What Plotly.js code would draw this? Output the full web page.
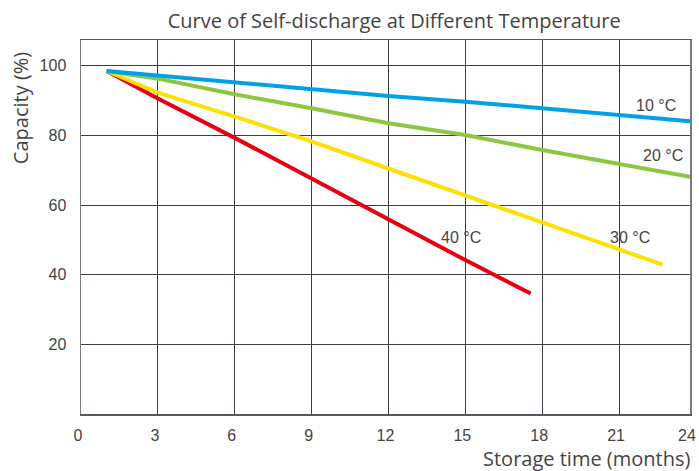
<!DOCTYPE html>
<html>
<head>
<meta charset="utf-8">
<script src="https://cdn.plot.ly/plotly-3.0.1.min.js"></script>
<style>html,body{margin:0;padding:0;background:#fff;}#chart{width:699px;height:471px;}</style>
</head>
<body>
<div id="chart"></div>
<script>
// Data
var months10 = [1, 3, 6, 9, 12, 15, 18, 21, 23.77];
var cap10    = [98.5, 97.2, 95.1, 93.2, 91.3, 89.7, 87.8, 85.8, 84.1];
var months20 = [1, 3, 6, 9, 12, 15, 18, 21, 23.77];
var cap20    = [98.5, 96.3, 91.8, 87.8, 83.5, 80.1, 75.8, 71.9, 68.1];
var months30 = [1, 3, 6, 9, 12, 15, 18, 21, 22.7];
var cap30    = [98.5, 92.3, 85.4, 78.3, 70.5, 62.8, 55.2, 47.5, 42.9];
var months40 = [1, 3, 6, 9, 12, 15, 17.55];
var cap40    = [98.5, 90.6, 79.3, 67.6, 56.1, 44.2, 34.6];

var seriesNames = ['10 °C', '20 °C', '30 °C', '40 °C'];
var seriesColors = ['#00a0e9', '#8dc63f', '#ffe100', '#e60012'];
var labelX = [22.46, 22.7, 21.42, 14.83];
var labelY = [88.6, 74.3, 50.7, 50.7];

var xTickVals = [0, 3, 6, 9, 12, 15, 18, 21, 23.77];
var xTickText = ['0', '3', '6', '9', '12', '15', '18', '21', '24'];
var yTickVals = [20, 40, 60, 80, 100];

var xs = [months10, months20, months30, months40];
var ys = [cap10, cap20, cap30, cap40];

var traces = [];
var order = [3, 2, 1, 0];
order.forEach(function (i) {
  traces.push({
    x: xs[i], y: ys[i], type: 'scatter', mode: 'lines', name: seriesNames[i],
    line: {color: seriesColors[i], width: 4}, hoverinfo: 'skip'
  });
});

var annotations = seriesNames.map(function (n, i) {
  return {x: labelX[i], y: labelY[i], xref: 'x', yref: 'y', text: n, showarrow: false,
    font: {family: 'Liberation Sans, Arial, sans-serif', size: 16, color: '#444'},
    xanchor: 'center', yanchor: 'middle'};
});
annotations.push({
  x: -0.099, y: 0.817, xref: 'paper', yref: 'paper', text: 'Capacity (%)', showarrow: false,
  textangle: -90, xanchor: 'center', yanchor: 'middle',
  font: {family: 'Open Sans, sans-serif', size: 20, color: '#444'}
});
annotations.push({
  x: 1.003, y: -0.118, xref: 'paper', yref: 'paper', text: 'Storage time (months)', showarrow: false,
  xanchor: 'right', yanchor: 'middle',
  font: {family: 'Open Sans, sans-serif', size: 20, color: '#444'}
});

var layout = {
  width: 699, height: 471,
  margin: {l: 80.5, r: 9, t: 40, b: 57, pad: 0},
  paper_bgcolor: '#fff', plot_bgcolor: '#fff',
  showlegend: false,
  title: {text: 'Curve of Self-discharge at Different Temperature',
    x: 0.564, xref: 'container', xanchor: 'center', y: 0.955, yref: 'container', yanchor: 'middle',
    font: {family: 'Open Sans, sans-serif', size: 20, color: '#444'}},
  xaxis: {range: [0, 23.77], tickmode: 'array', tickvals: xTickVals, ticktext: xTickText,
    showgrid: true, gridcolor: '#3a3e48', gridwidth: 1, zeroline: false,
    showline: true, linecolor: '#555a62', linewidth: 1.5, mirror: true, ticks: '',
    ticklabelstandoff: 6, ticklabelshift: -3,
    tickfont: {family: 'Liberation Sans, Arial, sans-serif', size: 16, color: '#444'}},
  yaxis: {range: [0, 107.4], tickmode: 'array', tickvals: yTickVals,
    showgrid: true, gridcolor: '#3a3e48', gridwidth: 1, zeroline: false,
    showline: true, linecolor: '#777b82', linewidth: 1.5, mirror: true, ticks: '',
    ticklabelstandoff: 10,
    tickfont: {family: 'Liberation Sans, Arial, sans-serif', size: 16, color: '#444'}},
  annotations: annotations
};

Plotly.newPlot('chart', traces, layout, {staticPlot: true, displayModeBar: false});
</script>
</body>
</html>
